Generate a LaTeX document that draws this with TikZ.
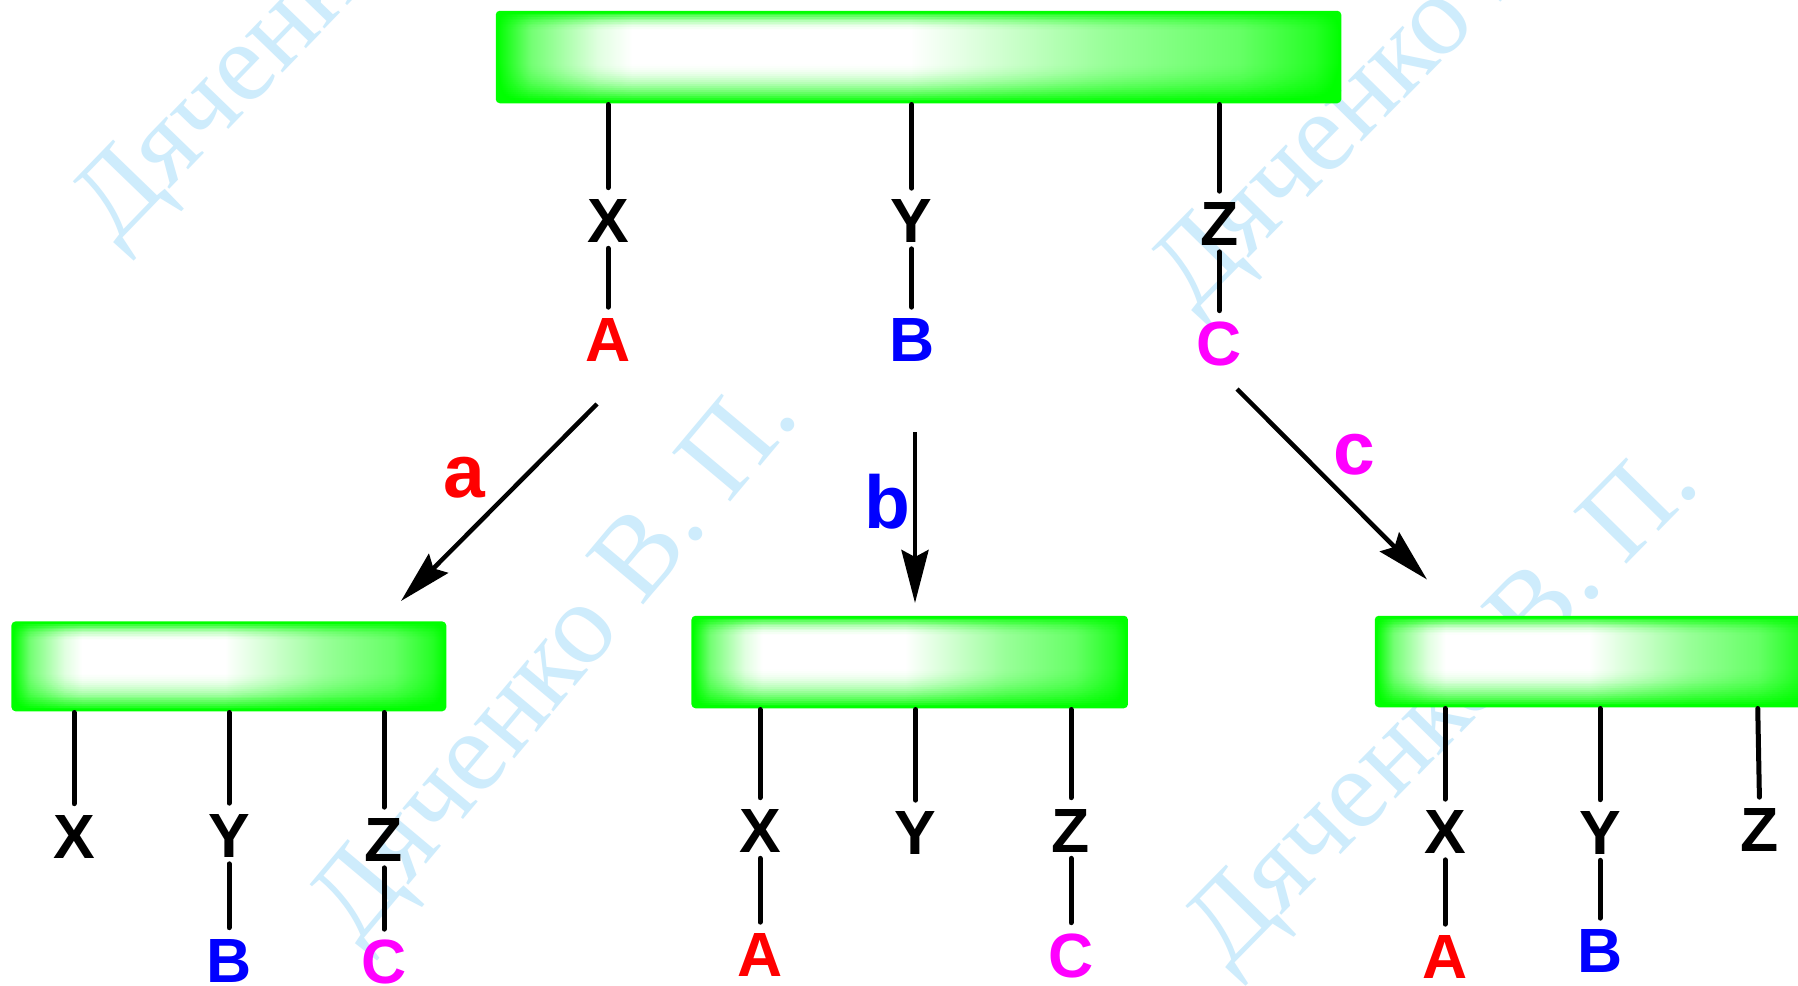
\documentclass[tikz,border=0pt]{standalone}
\usepackage{fontspec}
\setmainfont{Liberation Sans}
\newfontfamily\wmfont{Liberation Serif}
\usetikzlibrary{arrows.meta,calc}
\definecolor{gG}{RGB}{0,255,0}
\definecolor{wmblue}{RGB}{206,236,252}
\definecolor{lRed}{RGB}{255,0,0}
\definecolor{lBlue}{RGB}{0,0,255}
\definecolor{lMag}{RGB}{255,0,255}
\pgfdeclarehorizontalshading{barh}{100bp}{color(0bp)=(gG); color(25bp)=(gG); color(27bp)=(gG!55!white); color(31bp)=(gG!12!white); color(33bp)=(white); color(49.5bp)=(white); color(53bp)=(gG!12!white); color(61bp)=(gG!40!white); color(69bp)=(gG!60!white); color(73.5bp)=(gG!85!white); color(75bp)=(gG); color(100bp)=(gG)}
\tikzset{
  barbox/.style={rectangle, inner sep=0pt, outer sep=0pt, rounded corners=3pt, shade, shading=barh},
  capl/.style={inner sep=0pt, outer sep=0pt, text height=44.7pt, text depth=0pt, font=\fontsize{62.5}{70}\selectfont\bfseries},
  lowl/.style={inner sep=0pt, outer sep=0pt, text depth=0pt, font=\fontsize{75}{80}\selectfont\bfseries},
  ln/.style={line width=5pt, line cap=round},
  upln/.style={ln, shorten <=2.5pt, shorten >=10pt},
  dnln/.style={ln, shorten <=6pt, shorten >=10pt},
  arr/.style={line width=4.5pt, -{Stealth[length=53pt, width=27pt, inset=7pt]}},
  wmtext/.style={text=wmblue, inner sep=0pt, anchor=base},
}
\newcommand\glossbar[5]{%
  \node[barbox, minimum width={#4-(#2)}, minimum height={#5-(#3)}] (#1) at ({(#2+#4)/2},{(#3+#5)/2}) {};
  \pgfmathsetmacro\bh{#5-(#3)}%
  \begin{scope}
    \clip[rounded corners=3pt] (#1.north west) rectangle (#1.south east);
    \foreach \j in {1,...,12}{%
      \pgfmathsetmacro\oj{0.97*(1-(\j-0.5)/12)^2}%
      \pgfmathsetmacro\ojn{ifthenelse(\j<12, 0.97*(1-(\j+0.5)/12)^2, 0)}%
      \pgfmathsetmacro\al{1-(1-\oj)/(1-\ojn)}%
      \fill[gG, fill opacity=\al] (#2,#3) rectangle (#4,{#3+\bh*0.22*\j/12});
    }
    \foreach \j in {1,...,20}{%
      \pgfmathsetmacro\oj{0.97*(1-(\j-0.5)/20)^2}%
      \pgfmathsetmacro\ojn{ifthenelse(\j<20, 0.97*(1-(\j+0.5)/20)^2, 0)}%
      \pgfmathsetmacro\al{1-(1-\oj)/(1-\ojn)}%
      \fill[gG, fill opacity=\al] (#2,#5) rectangle (#4,{#5-\bh*0.44*\j/20});
    }
  \end{scope}
  \draw[gG, line width=2.5pt, rounded corners=3pt] (#1.north west) rectangle (#1.south east);
}
\begin{document}
\begin{tikzpicture}[x=1pt,y=-1pt]
\useasboundingbox (0,0) rectangle (1798,985);
\begin{scope}
\clip (0,0) rectangle (1798,985);
\fill[white] (0,0) rectangle (1798,985);
% watermarks
\node[wmtext, font=\fontsize{114}{118}\selectfont\wmfont, rotate=46] (w1) at (351.4,1.9) {Дяченко В. П.};
\node[wmtext, font=\fontsize{114}{118}\selectfont\wmfont, rotate=45.5] (w2) at (1431.4,72) {Дяченко В. П.};
\node[wmtext, font=\fontsize{116}{120}\selectfont\wmfont, rotate=50] (w3) at (579,682) {Дяченко В. П.};
\node[wmtext, font=\fontsize{114}{118}\selectfont\wmfont, rotate=45.5] (w4) at (1465,729) {Дяченко В. П.};
% bars
\glossbar{top}{497}{12}{1340}{102}
\glossbar{lbar}{12.7}{622.7}{445}{710}
\glossbar{mbar}{692.7}{617}{1126.7}{707}
\glossbar{rbar}{1376}{617}{1810}{706}
% top tree
\node[capl] (tX) at (608,220) {X};
\node[capl] (tY) at (911.7,220.5) {Y};
\node[capl] (tZ) at (1219.3,223.5) {Z};
\node[capl, text=lRed] (tA) at (608,339.5) {A};
\node[capl, text=lBlue] (tB) at (911.7,339.5) {B};
\node[capl, text=lMag] (tC) at (1219.3,343) {C};
\draw[upln] (top.south -| tX) -- (tX);
\draw[upln] (top.south -| tY) -- (tY);
\draw[upln] (top.south -| tZ) -- (tZ);
\draw[dnln] (tX) -- (tA);
\draw[dnln] (tY) -- (tB);
\draw[dnln] (tZ) -- (tC);
% left tree
\node[capl] (lX) at (74,836) {X};
\node[capl] (lY) at (229,835.5) {Y};
\node[capl] (lZ) at (384,839.5) {Z};
\node[capl, text=lBlue] (lB) at (229,960) {B};
\node[capl, text=lMag] (lC) at (384,961.5) {C};
\draw[upln] (lbar.south -| lX) -- (lX);
\draw[upln] (lbar.south -| lY) -- (lY);
\draw[upln] (lbar.south -| lZ) -- (lZ);
\draw[dnln] (lY) -- (lB);
\draw[dnln] (lZ) -- (lC);
% middle tree
\node[capl] (mX) at (760,830) {X};
\node[capl] (mY) at (915.7,832.5) {Y};
\node[capl] (mZ) at (1071,830) {Z};
\node[capl, text=lRed] (mA) at (760,954.5) {A};
\node[capl, text=lMag] (mC) at (1071,955) {C};
\draw[upln] (mbar.south -| mX) -- (mX);
\draw[upln] (mbar.south -| mY) -- (mY);
\draw[upln] (mbar.south -| mZ) -- (mZ);
\draw[dnln] (mX) -- (mA);
\draw[dnln] (mZ) -- (mC);
% right tree
\node[capl] (rX) at (1445,831.5) {X};
\node[capl] (rY) at (1600,832) {Y};
\node[capl] (rZ) at (1760,829.5) {Z};
\node[capl, text=lRed] (rA) at (1445,956.5) {A};
\node[capl, text=lBlue] (rB) at (1600,950.5) {B};
\coordinate (rZt) at (1757.7,706);
\draw[upln] (rbar.south -| rX) -- (rX);
\draw[upln] (rbar.south -| rY) -- (rY);
\draw[upln] (rZt) -- (rZ);
\draw[dnln] (rX) -- (rA);
\draw[dnln] (rY) -- (rB);
% arrows
\coordinate (a0) at (597,404);
\coordinate (a1) at (401,601);
\coordinate (b0) at (915,432);
\coordinate (b1) at (915,603);
\coordinate (c0) at (1237,389);
\coordinate (c1) at (1427,579.5);
\draw[arr] (a0) -- (a1);
\draw[arr] (b0) -- (b1);
\draw[arr] (c0) -- (c1);
\node[lowl, text=lRed, text height=40pt] (la) at (464,477) {a};
\node[lowl, text=lBlue, text height=55pt] (lb) at (887,501) {b};
\node[lowl, text=lMag, text height=39pt] (lc) at (1354,455) {c};
\end{scope}
\end{tikzpicture}
\end{document}
